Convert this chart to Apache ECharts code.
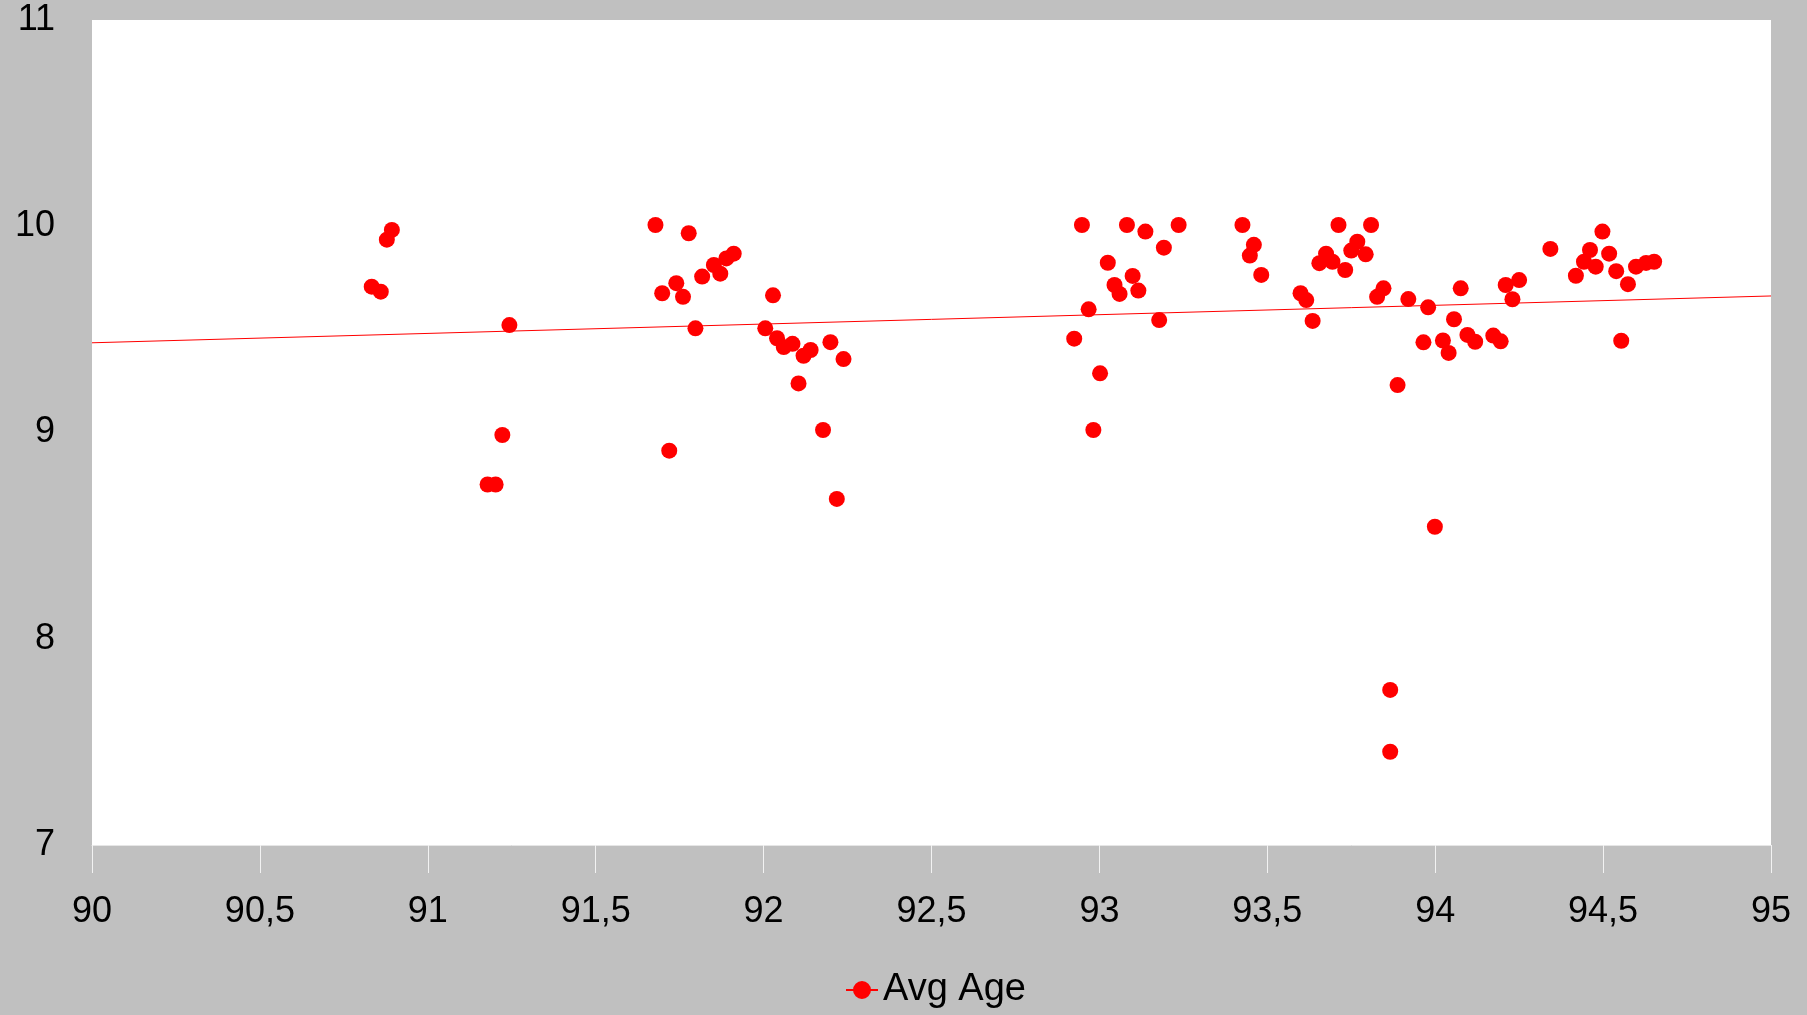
<!DOCTYPE html>
<html>
<head>
<meta charset="utf-8">
<script src="https://cdn.jsdelivr.net/npm/echarts@6/dist/echarts.min.js"></script>
<style>
  html, body { margin: 0; padding: 0; background: #C0C0C0; }
  #chart { width: 1807px; height: 1015px; }
</style>
</head>
<body>
<div id="chart"></div>
<script>
// Series name
const seriesName = 'Avg Age';

// Scatter points [x, Avg Age]
const cluster1 = [
  [90.833, 9.707], [90.860, 9.683], [90.878, 9.935], [90.893, 9.982],
  [91.243, 9.521], [91.222, 8.988], [91.178, 8.748], [91.202, 8.748]
];
const cluster2 = [
  [91.678, 10.006], [91.777, 9.966], [91.698, 9.675], [91.740, 9.724], [91.760, 9.658],
  [91.817, 9.756], [91.852, 9.812], [91.871, 9.770], [91.889, 9.844], [91.911, 9.867],
  [91.797, 9.505], [91.719, 8.912],
  [92.028, 9.665], [92.005, 9.505], [92.040, 9.457], [92.060, 9.414], [92.086, 9.430],
  [92.119, 9.372], [92.140, 9.400], [92.199, 9.438], [92.238, 9.356], [92.104, 9.238],
  [92.177, 9.012], [92.218, 8.678]
];
const cluster3 = [
  [92.948, 10.006], [93.082, 10.006], [93.137, 9.974], [93.236, 10.006], [93.192, 9.896],
  [93.025, 9.823], [93.099, 9.759], [93.045, 9.715], [93.060, 9.672], [93.116, 9.688],
  [92.968, 9.597], [93.178, 9.545], [92.925, 9.455], [93.002, 9.287], [92.982, 9.012]
];
const cluster4 = [
  [93.426, 10.006], [93.460, 9.910], [93.448, 9.858], [93.482, 9.764],
  [93.599, 9.675], [93.616, 9.642], [93.635, 9.541],
  [93.712, 10.006], [93.809, 10.006], [93.768, 9.925], [93.750, 9.882], [93.793, 9.864],
  [93.675, 9.867], [93.655, 9.821], [93.694, 9.828], [93.732, 9.788],
  [93.827, 9.658], [93.846, 9.699], [93.888, 9.230], [93.920, 9.647],
  [93.979, 9.607], [93.965, 9.437], [94.023, 9.446], [94.040, 9.386], [94.056, 9.549],
  [94.076, 9.699], [94.096, 9.473], [94.119, 9.440], [94.173, 9.470], [94.195, 9.442],
  [94.210, 9.715], [94.250, 9.739], [94.230, 9.646],
  [93.999, 8.543], [93.866, 7.752], [93.866, 7.452]
];
const cluster5 = [
  [94.343, 9.890], [94.498, 9.974], [94.461, 9.885], [94.518, 9.867], [94.443, 9.828],
  [94.478, 9.804], [94.419, 9.760], [94.539, 9.782], [94.574, 9.719], [94.554, 9.445],
  [94.598, 9.804], [94.628, 9.822], [94.652, 9.828]
];

// Linear trendline end points
const trendLine = [[90, 9.435], [95, 9.662]];

// Axis tick labels
const xTickLabels = ['90', '90,5', '91', '91,5', '92', '92,5', '93', '93,5', '94', '94,5', '95'];
const yTickLabels = ['7', '8', '9', '10', '11'];

const points = [].concat(cluster1, cluster2, cluster3, cluster4, cluster5);

const FONT = '"Liberation Sans", Arial, Helvetica, sans-serif';
const chart = echarts.init(document.getElementById('chart'));

chart.setOption({
  backgroundColor: '#C0C0C0',
  animation: false,
  grid: {
    left: 92, right: 36, top: 20, bottom: 170,
    show: true, backgroundColor: '#FFFFFF', borderWidth: 0
  },
  legend: {
    data: [{
      name: seriesName,
      icon: 'path://M0,9 L8,9 L8,11 L0,11 Z M24,9 L32,9 L32,11 L24,11 Z M7,10 A9,9 0 1 1 25,10 A9,9 0 1 1 7,10 Z',
      itemStyle: { color: '#FF0000', opacity: 1 }
    }],
    left: 841,
    top: 966,
    itemWidth: 32,
    itemHeight: 20,
    itemGap: 10,
    textStyle: { fontFamily: FONT, fontSize: 38, color: '#000' }
  },
  xAxis: {
    type: 'value',
    min: 90, max: 95, interval: 0.5,
    splitLine: { show: false },
    axisLine: { show: true, onZero: false, lineStyle: { color: '#E6E6E6', width: 1 } },
    axisTick: { show: true, length: 28, lineStyle: { color: '#F2F2F2', width: 1 } },
    axisLabel: {
      margin: 49,
      fontFamily: FONT, fontSize: 36, color: '#000',
      showMinLabel: true, showMaxLabel: true,
      formatter: function (v) {
        const i = Math.round((v - 90) / 0.5);
        return xTickLabels[i] !== undefined ? xTickLabels[i] : '';
      }
    }
  },
  yAxis: {
    type: 'value',
    min: 7, max: 11, interval: 1,
    splitLine: { show: false },
    axisLine: { show: false },
    axisTick: { show: false },
    axisLabel: {
      margin: 37,
      fontFamily: FONT, fontSize: 36, color: '#000',
      showMinLabel: true, showMaxLabel: true,
      formatter: function (v) {
        const i = Math.round(v - 7);
        return yTickLabels[i] !== undefined ? yTickLabels[i] : '';
      }
    }
  },
  series: [
    {
      name: seriesName,
      type: 'scatter',
      data: points,
      symbol: 'circle',
      symbolSize: 16,
      itemStyle: { color: '#FF0000', opacity: 1 },
      emphasis: { disabled: true },
      z: 3
    },
    {
      name: 'trend',
      type: 'line',
      data: trendLine,
      symbol: 'none',
      lineStyle: { color: '#FF0000', width: 1 },
      silent: true,
      z: 2
    }
  ]
});
</script>
</body>
</html>
